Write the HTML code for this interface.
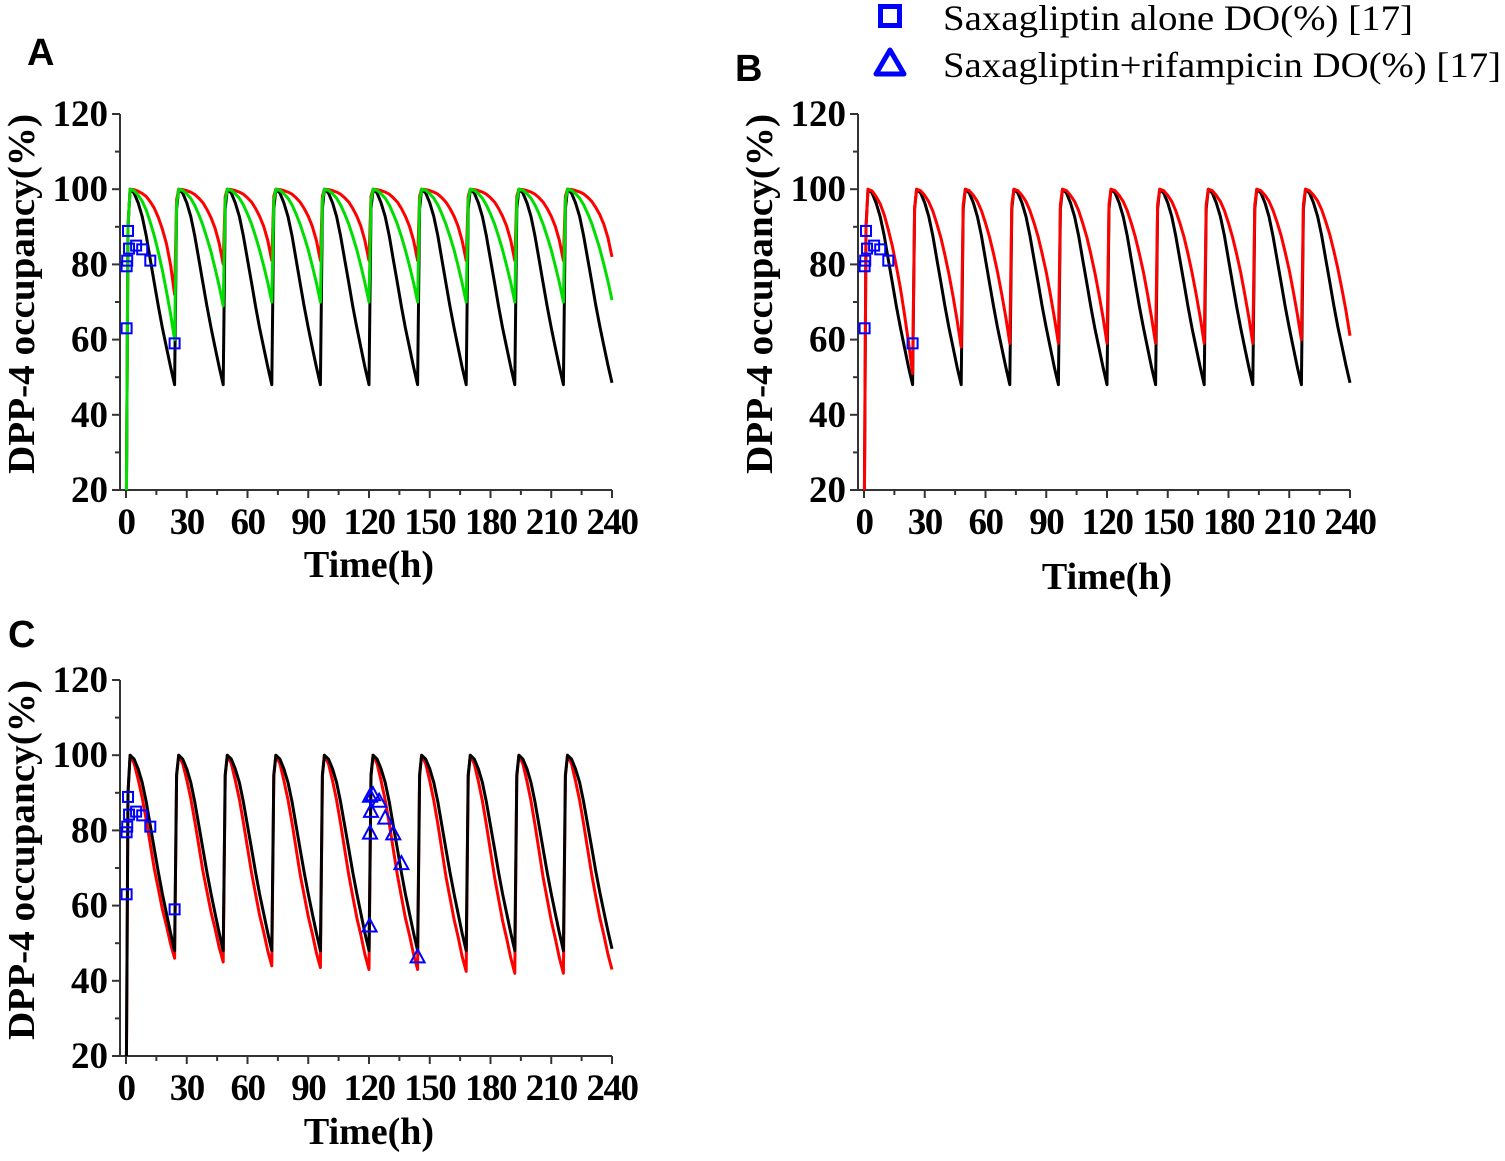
<!DOCTYPE html>
<html><head><meta charset="utf-8"><style>
body{margin:0;background:#fff;}
svg text{font-family:"Liberation Serif",serif;}
svg text.sans{font-family:"Liberation Sans",sans-serif;}
</style></head><body>
<svg id="chart" width="1505" height="1156" xmlns="http://www.w3.org/2000/svg">
<g>
<rect x="880.5" y="6.5" width="19" height="19" fill="none" stroke="#0000ff" stroke-width="5"/>
<text x="943" y="30" font-size="36" textLength="470" lengthAdjust="spacingAndGlyphs">Saxagliptin alone DO(%) [17]</text>
<polygon points="890,50 904,74 876,74" fill="none" stroke="#0000ff" stroke-width="5" stroke-linejoin="round"/>
<text x="943" y="77" font-size="36" textLength="558" lengthAdjust="spacingAndGlyphs">Saxagliptin+rifampicin DO(%) [17]</text>
</g>
</svg>
<script>
// shape profile hours within a dosing cycle
const cycleHours=[0,1,2,4,6,8,10,12,14,16,18,20,22,24];
const fracBlack=[0,0.9,1,0.98,0.93,0.86,0.76,0.64,0.52,0.40,0.29,0.19,0.09,0];
const fracRedA=[0,0.9,1,0.995,0.98,0.96,0.93,0.88,0.82,0.73,0.62,0.48,0.28,0];
const fracGreenA=[0,0.9,1,0.99,0.96,0.92,0.86,0.78,0.69,0.58,0.46,0.32,0.17,0];
const fracRedB=[0,0.9,1,0.99,0.96,0.92,0.86,0.78,0.69,0.58,0.46,0.32,0.17,0];
const fracRedC=[0,0.9,1,0.96,0.88,0.79,0.68,0.56,0.44,0.34,0.24,0.16,0.07,0];
// trough per dose cycle (10 doses, every 24 h)
const troughBlack=[48,48,48,48,48,48,48,48,48,48.5];
const troughRedA=[72,80,81,81,81,81,81,81,81,82];
const troughGreenA=[60,69,70,70,70,70,70,70,70,70.5];
const troughRedB=[51,58,59,59,59,59,59,59,60,61];
const troughRedC=[46,45,44,43.5,43,43,42.5,42,42,43];
// observed data
const sqT=[0.3,0.3,0.6,1,1.5,5,8,12,24];
const sqV=[63,79.5,81,88.9,84.2,85,84,81,59];
const triT=[120.5,121,120.5,120.3,122,125,128,132,136,144];
const triV=[89.2,85.2,79.4,54.7,89.6,87.9,83.4,79.2,71.3,46.5];
const yTicks=[20,40,60,80,100,120];
const xTicks=[0,30,60,90,120,150,180,210,240];

const NS="http://www.w3.org/2000/svg";
const svg=document.getElementById('chart');
function mk(tag,attrs,parent){const e=document.createElementNS(NS,tag);for(const k in attrs)e.setAttribute(k,attrs[k]);(parent||svg).appendChild(e);return e;}

function panel(id,x0,yTop,letter,lx,ly,titleY,series,tris){
  const yBot=yTop+376, xR=x0+486;
  const sx=t=>x0+t*486/240, sy=v=>yBot-(v-20)*376/100;
  const g=mk('g',{});
  
  
  const clipId='clip'+id;
  const cp=mk('clipPath',{id:clipId},g);mk('rect',{x:x0-8,y:yTop-10,width:500,height:yBot-yTop+10},cp);
  const L=mk('text',{x:lx,y:ly,'font-size':38,'font-weight':'bold','class':'sans'},g);L.textContent=letter;
  
  
  const ax=x0-6;
  const yl=mk('line',{x1:ax,y1:yTop,x2:ax,y2:yBot,stroke:'#333','stroke-width':2},g);
  
  
  const xl=mk('line',{x1:ax,y1:yBot,x2:xR,y2:yBot,stroke:'#333','stroke-width':2},g);
  
  
  for(let v=20;v<=120;v+=10){const maj=v%20==0;mk('line',{x1:ax-(maj?8:5),y1:sy(v),x2:ax,y2:sy(v),stroke:'#333','stroke-width':2},g);}
  yTicks.forEach(v=>{const t=mk('text',{x:ax-12,y:sy(v)+12,'font-size':37,'font-weight':'bold','text-anchor':'end'},g);t.textContent=v;
    
    });
  for(let h=0;h<=240;h+=15){const maj=h%30==0;mk('line',{x1:sx(h),y1:yBot,x2:sx(h),y2:yBot+(maj?8:5),stroke:'#333','stroke-width':2},g);}
  xTicks.forEach(h=>{const t=mk('text',{x:sx(h),y:yBot+44,'font-size':37,'font-weight':'bold','text-anchor':'middle','letter-spacing':'-1.5'},g);t.textContent=h;
    
    });
  const xt=mk('text',{x:(x0+xR)/2,y:titleY,'font-size':38,'font-weight':'bold','text-anchor':'middle'},g);xt.textContent='Time(h)';
  
  
  const yc=(yTop+yBot)/2-8;
  const yt=mk('text',{x:0,y:0,'font-size':38,'font-weight':'bold','text-anchor':'middle',textLength:360,lengthAdjust:'spacingAndGlyphs',transform:`translate(${x0-92},${yc}) rotate(-90)`},g);yt.textContent='DPP-4 occupancy(%)';
  
  
  const cg=mk('g',{'clip-path':`url(#${clipId})`},g);
  series.forEach(s=>{
    let d='';
    for(let c=0;c<s.troughs.length;c++){
      const P=c==0?0:s.troughs[c-1], T=s.troughs[c];
      cycleHours.forEach((h,i)=>{
        if(c>0&&i==0)return;
        const base=h<=2?P:T;
        const v=base+(100-base)*s.frac[i];
        const t=c*24+h;
        d+=(d?'L':'M')+sx(t).toFixed(1)+','+sy(v).toFixed(1);
      });
    }
    const p=mk('path',{d:d,fill:'none',stroke:s.color,'stroke-width':3,'stroke-linejoin':'round'},cg);
    
    
  });
  sqT.forEach((t,i)=>{const r=mk('rect',{x:sx(t)-5,y:sy(sqV[i])-5,width:10,height:10,fill:'none',stroke:'#0000ff','stroke-width':2},g);
    
    });
  if(tris)triT.forEach((t,i)=>{const X=sx(t),Y=sy(triV[i]);const p=mk('polygon',{points:`${X},${Y-7} ${X+7},${Y+6} ${X-7},${Y+6}`,fill:'none',stroke:'#0000ff','stroke-width':2},g);
    
    });
}
panel('a',126,114,'A',27,65,577,[
 {name:'black-line',color:'#000',frac:fracBlack,troughs:troughBlack},
 {name:'red-line',color:'#ff0000',frac:fracRedA,troughs:troughRedA},
 {name:'green-line',color:'#00dd00',frac:fracGreenA,troughs:troughGreenA}],false);
panel('b',864,114,'B',735,81,589,[
 {name:'black-line',color:'#000',frac:fracBlack,troughs:troughBlack},
 {name:'red-line',color:'#ff0000',frac:fracRedB,troughs:troughRedB}],false);
panel('c',126,680,'C',8,647,1144,[
 {name:'red-line',color:'#ff0000',frac:fracRedC,troughs:troughRedC},
 {name:'black-line',color:'#000',frac:fracBlack,troughs:troughBlack}],true);
</script>
</body></html>
